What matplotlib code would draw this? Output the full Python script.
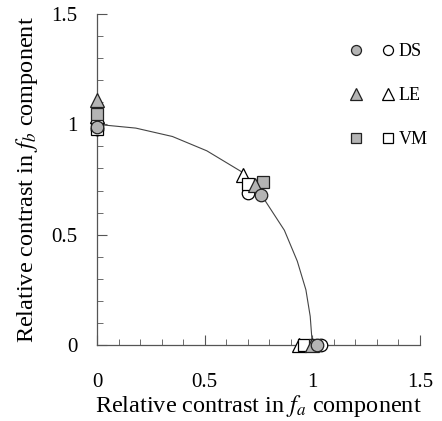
import matplotlib
matplotlib.use("Agg")
import matplotlib.pyplot as plt
from matplotlib.ticker import MultipleLocator
from matplotlib.legend_handler import HandlerTuple

plt.rcParams['font.family'] = ['Liberation Serif', 'DejaVu Serif']
plt.rcParams['mathtext.fontset'] = 'stix'

# curve
curve_x = [0, 0.18, 0.35, 0.51, 0.68, 0.77, 0.87, 0.93, 0.97, 0.99, 1.0]
curve_y = [1, 0.983, 0.945, 0.88, 0.78, 0.67, 0.52, 0.38, 0.25, 0.13, 0]

# filled markers (first column of the legend)
ds_fill_x = [0, 0.76, 1.02]
ds_fill_y = [0.99, 0.68, 0]
le_fill_x = [0, 0.735, 1.0]
le_fill_y = [1.11, 0.725, 0]
vm_fill_x = [0, 0.77, 1.01]
vm_fill_y = [1.045, 0.74, 0]

# open markers (second column)
ds_open_x = [0, 0.70, 1.04]
ds_open_y = [0.98, 0.69, 0]
le_open_x = [0, 0.68, 0.94]
le_open_y = [1.04, 0.77, 0]
vm_open_x = [0, 0.70, 0.96]
vm_open_y = [0.98, 0.73, 0]

labels = ['DS', 'LE', 'VM']

fig = plt.figure(figsize=(4.42, 4.21), dpi=100)
ax = fig.add_axes([0.2195, 0.1805, 0.7308, 0.7862])

ax.plot(curve_x, curve_y, color='#444444', lw=0.8, zorder=1)

gray = '#b4b4b4'
ms = 9
kw = dict(ls='none', mew=0.9, clip_on=False)
o1, = ax.plot(ds_open_x, ds_open_y, 'o', ms=ms, mfc='white', mec='black', zorder=4, **kw)
o2, = ax.plot(le_open_x, le_open_y, '^', ms=ms + 1, mfc='white', mec='black', zorder=4, **kw)
o3, = ax.plot(vm_open_x, vm_open_y, 's', ms=ms - 0.5, mfc='white', mec='black', zorder=4, **kw)
f3, = ax.plot(vm_fill_x, vm_fill_y, 's', ms=ms - 0.5, mfc=gray, mec='#222222', zorder=5, **kw)
f2, = ax.plot(le_fill_x, le_fill_y, '^', ms=ms + 1, mfc=gray, mec='#222222', zorder=5, **kw)
f1, = ax.plot(ds_fill_x, ds_fill_y, 'o', ms=ms, mfc=gray, mec='#222222', zorder=5, **kw)

ax.legend([(f1, o1), (f2, o2), (f3, o3)], labels,
          handler_map={tuple: HandlerTuple(ndivide=None, pad=1.2)},
          loc='upper right', bbox_to_anchor=(1.075, 0.962), frameon=False,
          fontsize=13, handlelength=2.4, handletextpad=0.3,
          labelspacing=1.5, markerscale=0.8)

ax.set_xlim(0, 1.5)
ax.set_ylim(0, 1.5)
ax.set_xticks([0, 0.5, 1, 1.5])
ax.set_yticks([0, 0.5, 1, 1.5])
ax.set_xticklabels(['0', '0.5', '1', '1.5'])
ax.set_yticklabels(['0', '0.5', '1', '1.5'])
ax.xaxis.set_minor_locator(MultipleLocator(0.1))
ax.yaxis.set_minor_locator(MultipleLocator(0.1))

for s in ['top', 'right']:
    ax.spines[s].set_visible(False)
for s in ['left', 'bottom']:
    ax.spines[s].set_color('#555555')
    ax.spines[s].set_linewidth(0.9)

ax.tick_params(axis='both', which='both', direction='in', colors='#555555', labelcolor='black')
ax.tick_params(axis='both', which='major', length=7, labelsize=15)
ax.tick_params(axis='both', which='minor', length=4)
ax.tick_params(axis='x', which='major', pad=20)
ax.tick_params(axis='y', which='major', pad=14)

ax.set_xlabel('Relative contrast in $f_a$ component', fontsize=17.5, labelpad=1)
ax.set_ylabel('Relative contrast in $f_b$ component', fontsize=17.5, labelpad=8)

fig.savefig('out.png', dpi=100)
